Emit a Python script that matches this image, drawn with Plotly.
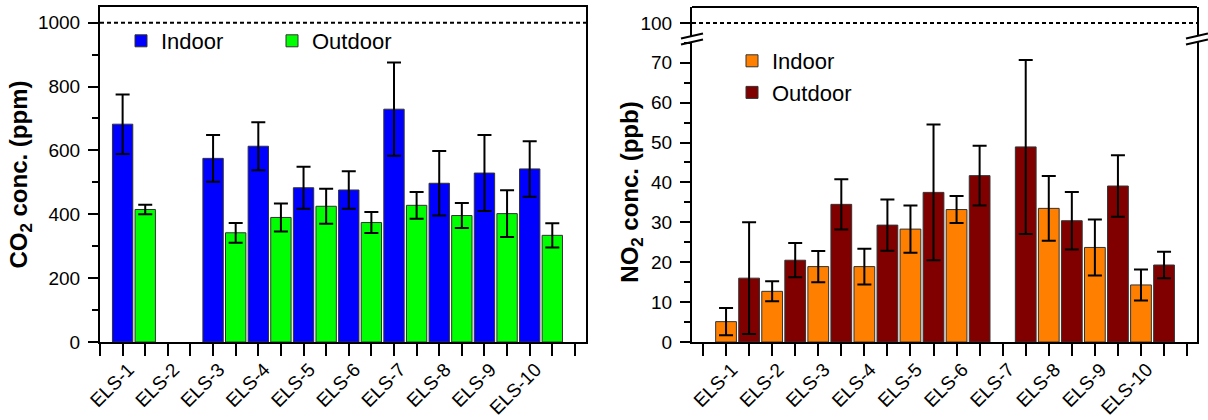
import plotly.graph_objects as go

# ---------------- data ----------------
sites = ["ELS-1", "ELS-2", "ELS-3", "ELS-4", "ELS-5", "ELS-6", "ELS-7", "ELS-8", "ELS-9", "ELS-10"]

co2_indoor = [682, None, 575, 613, 483, 476, 729, 497, 529, 542]
co2_indoor_err = [93, None, 73, 75, 66, 59, 146, 101, 119, 87]
co2_outdoor = [415, None, 342, 390, 425, 374, 428, 396, 402, 334]
co2_outdoor_err = [15, None, 31, 44, 55, 33, 42, 39, 73, 38]

no2_indoor = [5.1, 12.7, 18.9, 18.9, 28.3, 33.2, None, 33.5, 23.7, 14.3]
no2_indoor_err = [3.4, 2.5, 3.9, 4.5, 5.9, 3.4, None, 8.1, 7.0, 3.9]
no2_outdoor = [16.0, 20.5, 34.5, 29.3, 37.5, 41.7, 48.9, 30.4, 39.1, 19.3]
no2_outdoor_err = [14.0, 4.3, 6.3, 6.4, 17.0, 7.5, 21.8, 7.2, 7.7, 3.3]

co2_limit = 1000
no2_limit = 100

# ---------------- layout helpers ----------------
W, H = 1208, 420
FONT = "Liberation Sans, Arial, sans-serif"


def px(x):
    return x / W


def py(y):
    return 1 - y / H


pos_in = [2 * i + 1 for i in range(len(sites))]
pos_out = [2 * i + 2 for i in range(len(sites))]

BAR_W = 0.9
OUTLINE = dict(color="#333333", width=1)


def err(arr):
    return dict(type="data", array=arr, visible=True, color="black", thickness=2, width=7)


fig = go.Figure()

# CO2 panel
fig.add_trace(go.Bar(x=pos_in, y=co2_indoor, width=BAR_W, name="Indoor",
                     marker=dict(color="#0000FF", line=OUTLINE), error_y=err(co2_indoor_err),
                     xaxis="x", yaxis="y", legend="legend"))
fig.add_trace(go.Bar(x=pos_out, y=co2_outdoor, width=BAR_W, name="Outdoor",
                     marker=dict(color="#00FF00", line=OUTLINE), error_y=err(co2_outdoor_err),
                     xaxis="x", yaxis="y", legend="legend"))

# NO2 panel
fig.add_trace(go.Bar(x=pos_in, y=no2_indoor, width=BAR_W, name="Indoor",
                     marker=dict(color="#FF8000", line=OUTLINE), error_y=err(no2_indoor_err),
                     xaxis="x2", yaxis="y2", legend="legend2"))
fig.add_trace(go.Bar(x=pos_out, y=no2_outdoor, width=BAR_W, name="Outdoor",
                     marker=dict(color="#800000", line=OUTLINE), error_y=err(no2_outdoor_err),
                     xaxis="x2", yaxis="y2", legend="legend2"))

tickfont = dict(family=FONT, size=19, color="black")
titlefont = dict(family=FONT, size=24, color="black", weight="bold")

xcommon = dict(
    tickmode="array", tickvals=pos_in, ticktext=sites, tickangle=-45,
    ticks="outside", ticklen=12, tickwidth=2, tickcolor="black",
    minor=dict(tickmode="linear", tick0=0, dtick=1, ticks="outside", ticklen=12,
               tickwidth=2, tickcolor="black"),
    showline=True, linewidth=2, linecolor="black",
    showgrid=False, zeroline=False, tickfont=tickfont, automargin=False,
    ticklabelstandoff=-5, ticklabelshift=6,
)
ycommon = dict(
    ticks="outside", ticklen=10, tickwidth=2, tickcolor="black",
    showline=True, linewidth=2, linecolor="black", mirror=True,
    showgrid=False, zeroline=False, tickfont=tickfont, ticklabelstandoff=4,
    automargin=False,
)

fig.update_layout(
    width=W, height=H,
    margin=dict(l=0, r=0, t=0, b=0, autoexpand=False),
    paper_bgcolor="white", plot_bgcolor="white",
    barmode="overlay",
    font=dict(family=FONT, color="black"),
    xaxis=dict(domain=[px(100), px(586)], range=[0, 21.49], anchor="y", mirror=True, **xcommon),
    yaxis=dict(domain=[py(342), py(7)], range=[0, 1049], anchor="x", tick0=0, dtick=200,
               minor=dict(dtick=100, ticks="outside", ticklen=6, tickwidth=2, tickcolor="black"),
               title=dict(text="<b>CO<sub>2</sub> conc. (ppm)</b>", font=titlefont, standoff=4),
               **ycommon),
    xaxis2=dict(domain=[px(692), px(1197)], range=[-0.477, 21.43], anchor="y2", mirror=False, **xcommon),
    yaxis2=dict(domain=[py(342), py(42)], range=[0, 75.2], anchor="x2", tick0=0, dtick=10,
                minor=dict(dtick=5, ticks="outside", ticklen=6, tickwidth=2, tickcolor="black"),
                title=dict(text="<b>NO<sub>2</sub> conc. (ppb)</b>", font=titlefont, standoff=6),
                **ycommon),
    yaxis3=dict(domain=[py(36), py(7)], range=[96.7, 104], anchor="x2",
                tickmode="array", tickvals=[no2_limit], **ycommon),
    legend=dict(orientation="h", x=px(121), y=py(20), xanchor="left", yanchor="top",
                font=dict(family=FONT, size=22, color="black"), bgcolor="rgba(0,0,0,0)",
                entrywidth=106, entrywidthmode="pixels"),
    legend2=dict(orientation="v", x=px(732), y=py(40), xanchor="left", yanchor="top",
                 font=dict(family=FONT, size=22, color="black"), bgcolor="rgba(0,0,0,0)",
                 tracegroupgap=0),
)

shapes = []
# limit lines
shapes.append(dict(type="line", xref="x domain", yref="y", x0=0, x1=1, y0=co2_limit, y1=co2_limit,
                   line=dict(color="black", width=2, dash="4px,3px")))
shapes.append(dict(type="line", xref="x2 domain", yref="y3", x0=0, x1=1, y0=no2_limit, y1=no2_limit,
                   line=dict(color="black", width=2, dash="4px,3px")))
# top frame of NO2 panel
shapes.append(dict(type="line", xref="x2 domain", yref="y3 domain", x0=0, x1=1, y0=1, y1=1,
                   line=dict(color="black", width=2)))
# axis-break marks
for cx in (692, 1197):
    for cy in (36, 42):
        shapes.append(dict(type="line", xref="paper", yref="paper",
                           x0=px(cx - 11), y0=py(cy + 2.5), x1=px(cx + 11), y1=py(cy - 2.5),
                           line=dict(color="black", width=2)))
fig.update_layout(shapes=shapes)

fig.write_html(
    "out.html",
    config={"displayModeBar": False},
    post_script="document.body.style.margin='0';document.body.style.overflow='hidden';",
)
